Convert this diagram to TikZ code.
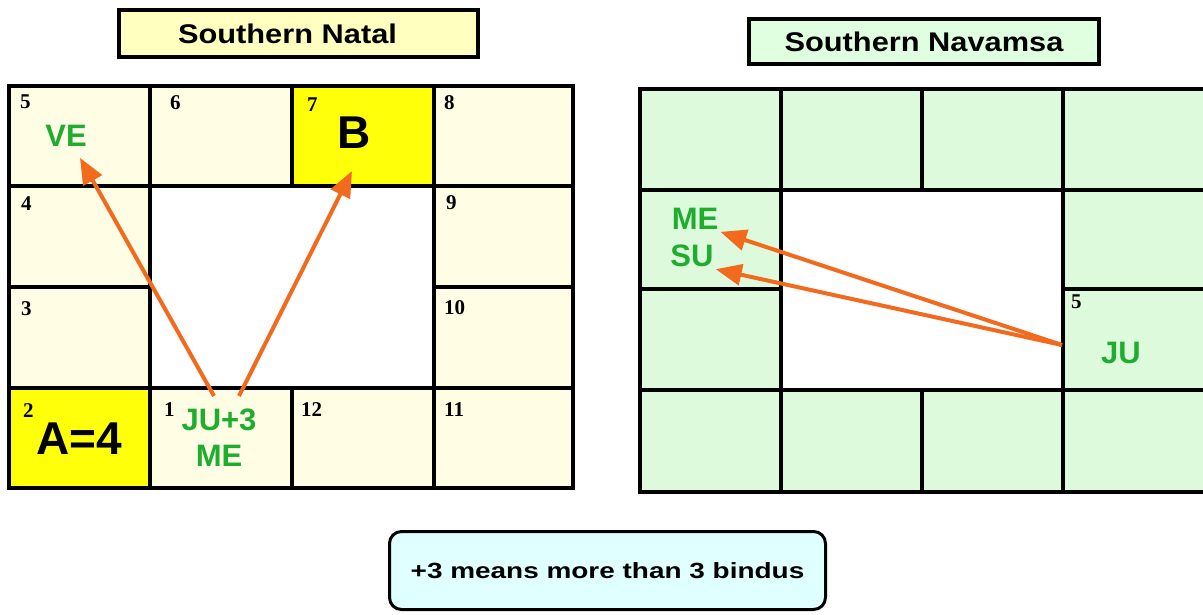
\documentclass[tikz,border=0pt]{standalone}
\usepackage{fontspec}
\usepackage{graphicx}
\setmainfont{Liberation Serif}
\setsansfont{Liberation Sans}
\usetikzlibrary{arrows.meta}

\definecolor{natcream}{HTML}{FFFDE4}
\definecolor{nattitle}{HTML}{FFFFC0}
\definecolor{lagyellow}{HTML}{FFFF0A}
\definecolor{navgreen}{HTML}{DDFADD}
\definecolor{navtitle}{HTML}{E0FFE0}
\definecolor{notecyan}{HTML}{E0FFFF}
\definecolor{planetgreen}{HTML}{1FAD30}
\definecolor{aspectorange}{HTML}{F26A1E}

\tikzset{
  cellline/.style={draw=black, line width=4.5pt},
  natcell/.style={cellline, fill=natcream},
  lagcell/.style={cellline, fill=lagyellow},
  navcell/.style={cellline, fill=navgreen},
  housenum/.style={anchor=north west, inner sep=0pt, font=\fontsize{21}{21}\selectfont\bfseries},
  planet/.style={inner sep=2pt, text=planetgreen, align=center, font=\fontsize{31}{36}\selectfont\sffamily\bfseries},
  bigmark/.style={inner sep=2pt, font=\fontsize{46}{46}\selectfont\sffamily\bfseries},
  titlebox/.style={draw=black, line width=4pt, inner sep=0pt, font=\fontsize{27}{27}\selectfont\sffamily\bfseries},
  notebox/.style={draw=black, line width=3pt, rounded corners=12pt, fill=notecyan, inner sep=0pt, font=\fontsize{22}{22}\selectfont\sffamily\bfseries},
  aspect/.style={draw=aspectorange, line width=4pt, -{Triangle[length=26pt,width=21pt]}},
}

\begin{document}
\begin{tikzpicture}[x=1pt,y=1pt,yscale=-1]
  \path[use as bounding box] (0,0) rectangle (1203,614);

  % Titles
  \node[titlebox, fill=nattitle, minimum width=359pt, minimum height=47pt] (natTitle) at (298.5,33.5) {\scalebox{1.14}[1]{Southern Natal}\rule{22pt}{0pt}};
  \node[titlebox, fill=navtitle, minimum width=350pt, minimum height=45pt] (navTitle) at (924,41.5) {\scalebox{1.14}[1]{Southern Navamsa}};

  % Southern Natal: houses
  \draw[natcell] (9,86) rectangle (150,186);
  \draw[natcell] (150,86) rectangle (292,186);
  \draw[lagcell] (292,86) rectangle (434,186);
  \draw[natcell] (434,86) rectangle (573,186);
  \draw[natcell] (9,186) rectangle (150,287);
  \draw[natcell] (434,186) rectangle (573,287);
  \draw[natcell] (9,287) rectangle (150,388);
  \draw[natcell] (434,287) rectangle (573,388);
  \draw[lagcell] (9,388) rectangle (150,488);
  \draw[natcell] (150,388) rectangle (292,488);
  \draw[natcell] (292,388) rectangle (434,488);
  \draw[natcell] (434,388) rectangle (573,488);

  % Southern Navamsa: houses
  \draw[navcell] (640,89) rectangle (781,190);
  \draw[navcell] (781,89) rectangle (922,190);
  \draw[navcell] (922,89) rectangle (1063,190);
  \draw[navcell] (1063,89) rectangle (1212,190);
  \draw[navcell] (640,190) rectangle (781,289);
  \draw[navcell] (1063,190) rectangle (1212,289);
  \draw[navcell] (640,289) rectangle (781,390);
  \draw[navcell] (1063,289) rectangle (1212,390);
  \draw[navcell] (640,390) rectangle (781,492);
  \draw[navcell] (781,390) rectangle (922,492);
  \draw[navcell] (922,390) rectangle (1063,492);
  \draw[navcell] (1063,390) rectangle (1212,492);

  % House numbers
  \node[housenum] (h5) at (20,95) {5};
  \node[housenum] (h6) at (170,95) {6};
  \node[housenum] (h7) at (307,98) {7};
  \node[housenum] (h8) at (444,95) {8};
  \node[housenum] (h4) at (21,196) {4};
  \node[housenum] (h9) at (446,195) {9};
  \node[housenum] (h3) at (21,301) {3};
  \node[housenum] (h10) at (444,300) {10};
  \node[housenum] (h2) at (23,403) {2};
  \node[housenum] (h1) at (164,402) {1};
  \node[housenum] (h12) at (301,402) {12};
  \node[housenum] (h11) at (444,402) {11};
  \node[housenum] (nh5) at (1071,295) {5};

  % Planets and marks
  \node[planet] (ve) at (66,136) {VE};
  \node[bigmark] (bmark) at (354,133) {B};
  \node[bigmark] (amark) at (79,439) {A=4};
  \node[planet] (juMe) at (219,438) {JU+3\\ME};
  \node[planet] (me) at (695,219) {ME};
  \node[planet] (su) at (692,256) {SU};
  \node[planet] (ju) at (1121,353) {JU};

  % Aspects
  \draw[aspect] ([shift={(-5,-11)}]juMe.north) -- ([shift={(14,9)}]ve.south);
  \draw[aspect] ([shift={(20,-11)}]juMe.north) -- ([shift={(-2,20)}]bmark.south);
  \draw[aspect] ([shift={(-37,-8)}]ju.west) -- (me.south east);
  \draw[aspect] ([shift={(-37,-8)}]ju.west) -- (su.south east);

  % Note
  \node[notebox, minimum width=436pt, minimum height=78pt] (note) at (607.5,570.5) {\scalebox{1.27}[1]{+3 means more than 3 bindus}};
\end{tikzpicture}
\end{document}
